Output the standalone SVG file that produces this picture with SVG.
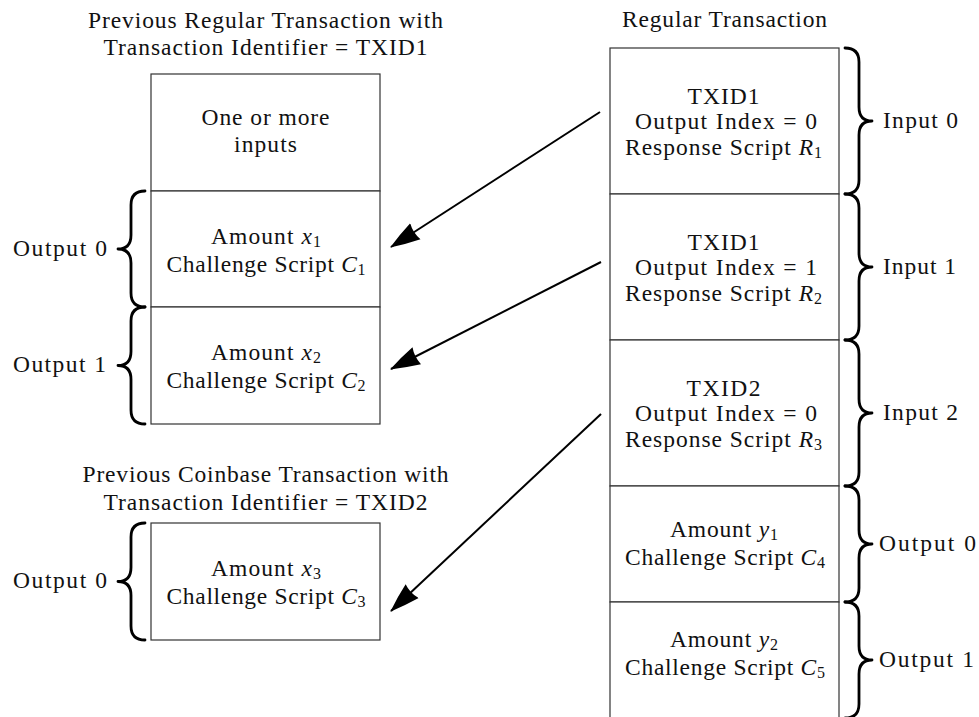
<svg xmlns="http://www.w3.org/2000/svg" width="979" height="717" viewBox="0 0 979 717">
  <style>
    text { font-family: "Liberation Serif", "Times New Roman", serif; font-size: 23.5px; fill: #111; }
    .c { text-anchor: middle; }
    .e { text-anchor: end; }
    .m { font-style: italic; }
    .sub { font-size: 16px; }
    .box { fill: #fff; stroke: #333; stroke-width: 1.2; }
    .brace { fill: none; stroke: #000; stroke-width: 2.8; stroke-linecap: round; stroke-linejoin: round; }
    .link { fill: none; stroke: #000; stroke-width: 2; }
  </style>
  <defs>
    <marker id="head" viewBox="0 0 30 20" refX="29" refY="10" markerWidth="30" markerHeight="20" markerUnits="userSpaceOnUse" orient="auto">
      <path d="M30,10 Q14,4 0,0.5 Q3,10 0,19.5 Q14,16 30,10 Z" fill="#000"/>
    </marker>
  </defs>
  <rect width="979" height="717" fill="#fff"/>

  <!-- previous regular transaction TXID1 -->
  <g id="prev-regular">
    <text class="c" x="265.5" y="28" textLength="355">Previous Regular Transaction with</text>
    <text class="c" x="265.5" y="55" textLength="324">Transaction Identifier = TXID1</text>
    <g id="prev-inputs">
      <rect class="box" x="151" y="74" width="229" height="117"/>
      <text class="c" x="265.5" y="125" textLength="128">One or more</text>
      <text class="c" x="265.5" y="152" textLength="63">inputs</text>
    </g>
    <g id="prev-out0">
      <rect class="box" x="151" y="191" width="229" height="116"/>
      <text class="c" x="266" y="244" textLength="110">Amount <tspan class="m">x</tspan><tspan class="sub" dy="3">1</tspan></text>
      <text class="c" x="266" y="272" textLength="199">Challenge Script <tspan class="m">C</tspan><tspan class="sub" dy="3">1</tspan></text>
    </g>
    <g id="prev-out1">
      <rect class="box" x="151" y="307" width="229" height="117"/>
      <text class="c" x="266" y="360" textLength="110">Amount <tspan class="m">x</tspan><tspan class="sub" dy="3">2</tspan></text>
      <text class="c" x="266" y="388" textLength="199">Challenge Script <tspan class="m">C</tspan><tspan class="sub" dy="3">2</tspan></text>
    </g>
    <path class="brace" d="M145,191 Q131,191 131,205 L131,235 Q131,249 118,249 Q131,249 131,263 L131,293 Q131,307 145,307"/>
    <path class="brace" d="M145,307 Q131,307 131,321 L131,351.5 Q131,365.5 118,365.5 Q131,365.5 131,379.5 L131,410 Q131,424 145,424"/>
    <text class="e" x="107" y="256" textLength="94">Output 0</text>
    <text class="e" x="106" y="372" textLength="93">Output 1</text>
  </g>

  <!-- previous coinbase transaction TXID2 -->
  <g id="prev-coinbase">
    <text class="c" x="265.5" y="482" textLength="366">Previous Coinbase Transaction with</text>
    <text class="c" x="265.5" y="510" textLength="324">Transaction Identifier = TXID2</text>
    <g id="coinbase-out0">
      <rect class="box" x="151" y="523" width="229" height="117"/>
      <text class="c" x="266" y="576" textLength="110">Amount <tspan class="m">x</tspan><tspan class="sub" dy="3">3</tspan></text>
      <text class="c" x="266" y="604" textLength="199">Challenge Script <tspan class="m">C</tspan><tspan class="sub" dy="3">3</tspan></text>
    </g>
    <path class="brace" d="M145,523 Q131,523 131,537 L131,567.5 Q131,581.5 118,581.5 Q131,581.5 131,595.5 L131,626 Q131,640 145,640"/>
    <text class="e" x="107" y="588" textLength="94">Output 0</text>
  </g>

  <!-- regular transaction -->
  <g id="regular">
    <text class="c" x="724.5" y="27" textLength="205">Regular Transaction</text>
    <g id="in0">
      <rect class="box" x="610" y="48" width="229" height="146"/>
      <text class="c" x="723.5" y="104" textLength="72">TXID1</text>
      <text class="c" x="726" y="129" textLength="182">Output Index = 0</text>
      <text class="c" x="723.5" y="155" textLength="197">Response Script <tspan class="m">R</tspan><tspan class="sub" dy="3">1</tspan></text>
    </g>
    <g id="in1">
      <rect class="box" x="610" y="194" width="229" height="146"/>
      <text class="c" x="723.5" y="250" textLength="72">TXID1</text>
      <text class="c" x="726" y="275" textLength="182">Output Index = 1</text>
      <text class="c" x="723.5" y="301" textLength="197">Response Script <tspan class="m">R</tspan><tspan class="sub" dy="3">2</tspan></text>
    </g>
    <g id="in2">
      <rect class="box" x="610" y="340" width="229" height="146"/>
      <text class="c" x="723.5" y="396" textLength="74">TXID2</text>
      <text class="c" x="726" y="421" textLength="182">Output Index = 0</text>
      <text class="c" x="723.5" y="447" textLength="197">Response Script <tspan class="m">R</tspan><tspan class="sub" dy="3">3</tspan></text>
    </g>
    <g id="out0">
      <rect class="box" x="610" y="486" width="229" height="116"/>
      <text class="c" x="724" y="537" textLength="108">Amount <tspan class="m">y</tspan><tspan class="sub" dy="3">1</tspan></text>
      <text class="c" x="725" y="565" textLength="200">Challenge Script <tspan class="m">C</tspan><tspan class="sub" dy="3">4</tspan></text>
    </g>
    <g id="out1">
      <rect class="box" x="610" y="602" width="229" height="116"/>
      <text class="c" x="724" y="647" textLength="108">Amount <tspan class="m">y</tspan><tspan class="sub" dy="3">2</tspan></text>
      <text class="c" x="725" y="675" textLength="200">Challenge Script <tspan class="m">C</tspan><tspan class="sub" dy="3">5</tspan></text>
    </g>
    <path class="brace" d="M845,48 Q859,48 859,62 L859,107 Q859,121 872,121 Q859,121 859,135 L859,180 Q859,194 845,194"/>
    <path class="brace" d="M845,194 Q859,194 859,208 L859,253 Q859,267 872,267 Q859,267 859,281 L859,326 Q859,340 845,340"/>
    <path class="brace" d="M845,340 Q859,340 859,354 L859,399 Q859,413 872,413 Q859,413 859,427 L859,472 Q859,486 845,486"/>
    <path class="brace" d="M845,486 Q859,486 859,500 L859,530 Q859,544 872,544 Q859,544 859,558 L859,588 Q859,602 845,602"/>
    <path class="brace" d="M845,602 Q859,602 859,616 L859,646 Q859,660 872,660 Q859,660 859,674 L859,704 Q859,718 845,718"/>
    <text x="883" y="128" textLength="75">Input 0</text>
    <text x="883" y="274" textLength="73">Input 1</text>
    <text x="883" y="420" textLength="75">Input 2</text>
    <text x="879" y="551" textLength="97">Output 0</text>
    <text x="879" y="667" textLength="95">Output 1</text>
  </g>

  <!-- spends: each input points at the output it redeems -->
  <g id="connectors">
    <line class="link" x1="600" y1="112" x2="391" y2="247" marker-end="url(#head)"/>
    <line class="link" x1="601" y1="262" x2="391" y2="369" marker-end="url(#head)"/>
    <line class="link" x1="601" y1="414" x2="391" y2="611" marker-end="url(#head)"/>
  </g>
</svg>
